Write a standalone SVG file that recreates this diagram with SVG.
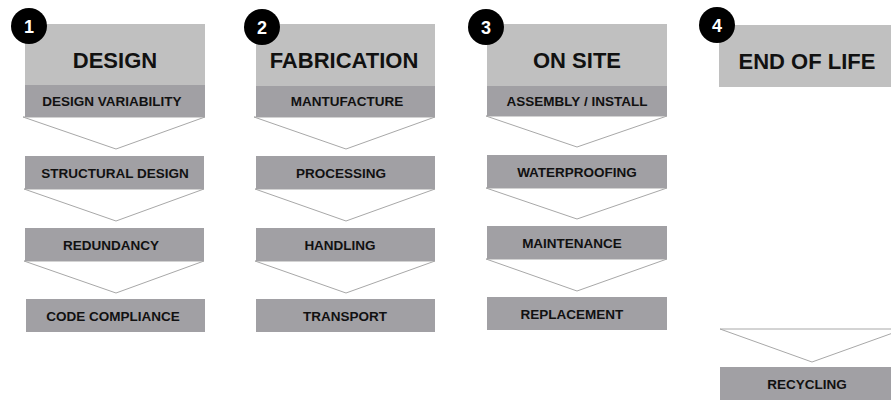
<svg xmlns="http://www.w3.org/2000/svg" width="891" height="400" viewBox="0 0 891 400">
<style>
.hdr{fill:#c0c0c0}
.sub{fill:#a1a0a4}
.chev{fill:#ffffff;stroke:#a8a8a8;stroke-width:1}
.ht{font-family:"Liberation Sans",Arial,sans-serif;font-weight:bold;font-size:22px;fill:#111;text-anchor:middle}
.st{font-family:"Liberation Sans",Arial,sans-serif;font-weight:bold;font-size:13.5px;fill:#111;text-anchor:middle}
.num{font-family:"Liberation Sans",Arial,sans-serif;font-weight:bold;font-size:18px;fill:#fff;text-anchor:middle}
.dot{fill:#000}
</style>
<rect width="891" height="400" fill="#fff"/>
<g id="connectors">
<polygon class="chev" points="23,117 116,149 205,117"/>
<polygon class="chev" points="24,189 116,221 204,189"/>
<polygon class="chev" points="24,261 116,293 204,261"/>
<polygon class="chev" points="254,117 346,149 435,117"/>
<polygon class="chev" points="255,189 346,221 435,189"/>
<polygon class="chev" points="255,261 346,293 435,261"/>
<polygon class="chev" points="486,116 577,147 667,116"/>
<polygon class="chev" points="486,188 577,219 667,188"/>
<polygon class="chev" points="486,259 577,291 667,259"/>
<polygon class="chev" points="720,329 812,362 904,329"/>
</g>
<g id="col1">
<rect class="hdr" x="25" y="24" width="180" height="61"/>
<text class="ht" x="115" y="68">DESIGN</text>
<circle class="dot" cx="29" cy="26" r="18"/>
<text class="num" x="29" y="33">1</text>
</g>
<g id="design-variability"><rect class="sub" x="25" y="85" width="180" height="32"/><text class="st" x="112" y="106">DESIGN VARIABILITY</text></g>
<g id="structural-design"><rect class="sub" x="25" y="156" width="179" height="33"/><text class="st" x="115" y="177.5">STRUCTURAL DESIGN</text></g>
<g id="redundancy"><rect class="sub" x="25" y="228" width="179" height="33"/><text class="st" x="111" y="249.5">REDUNDANCY</text></g>
<g id="code-compliance"><rect class="sub" x="26" y="299" width="179" height="33"/><text class="st" x="113" y="320.5">CODE COMPLIANCE</text></g>
<g id="col2">
<rect class="hdr" x="256" y="24" width="179" height="62"/>
<text class="ht" x="344" y="68">FABRICATION</text>
<circle class="dot" cx="262" cy="27" r="18"/>
<text class="num" x="262" y="34">2</text>
</g>
<g id="mantufacture"><rect class="sub" x="256" y="86" width="179" height="31"/><text class="st" x="347" y="106">MANTUFACTURE</text></g>
<g id="processing"><rect class="sub" x="256" y="156" width="179" height="33"/><text class="st" x="341" y="177.5">PROCESSING</text></g>
<g id="handling"><rect class="sub" x="256" y="228" width="179" height="33"/><text class="st" x="340" y="249.5">HANDLING</text></g>
<g id="transport"><rect class="sub" x="256" y="299" width="179" height="33"/><text class="st" x="345" y="320.5">TRANSPORT</text></g>
<g id="col3">
<rect class="hdr" x="487" y="24" width="180" height="62"/>
<text class="ht" x="577" y="68">ON SITE</text>
<circle class="dot" cx="486" cy="27" r="18"/>
<text class="num" x="486" y="34">3</text>
</g>
<g id="assembly-install"><rect class="sub" x="487" y="86" width="180" height="30"/><text class="st" x="577" y="105.5">ASSEMBLY / INSTALL</text></g>
<g id="waterproofing"><rect class="sub" x="487" y="155" width="180" height="33"/><text class="st" x="577" y="176.5">WATERPROOFING</text></g>
<g id="maintenance"><rect class="sub" x="487" y="226" width="180" height="33"/><text class="st" x="572" y="247.5">MAINTENANCE</text></g>
<g id="replacement"><rect class="sub" x="487" y="297" width="180" height="33"/><text class="st" x="572" y="318.5">REPLACEMENT</text></g>
<g id="col4">
<rect class="hdr" x="719" y="25" width="185" height="62"/>
<text class="ht" x="807" y="69">END OF LIFE</text>
<circle class="dot" cx="717" cy="25" r="18"/>
<text class="num" x="717" y="32">4</text>
</g>
<g id="recycling"><rect class="sub" x="720" y="367" width="184" height="33"/><text class="st" x="807" y="388.5">RECYCLING</text></g>
</svg>
